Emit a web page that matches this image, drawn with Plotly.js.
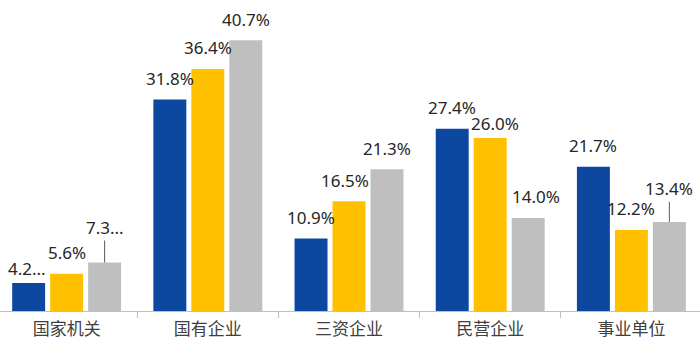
<!DOCTYPE html>
<html>
<head>
<meta charset="utf-8">
<script src="https://cdn.plot.ly/plotly-3.0.1.min.js"></script>
<style>html,body{margin:0;padding:0;background:#fff;}#chart{width:700px;height:350px;}</style>
</head>
<body>
<div id="chart"></div>
<script>
const categories = ["国家机关", "国有企业", "三资企业", "民营企业", "事业单位"];
const seriesA = [4.2, 31.8, 10.9, 27.4, 21.7];
const seriesB = [5.6, 36.4, 16.5, 26.0, 12.2];
const seriesC = [7.3, 40.7, 21.3, 14.0, 13.4];
const labelsA = ["4.2...", "31.8%", "10.9%", "27.4%", "21.7%"];
const labelsB = ["5.6%", "36.4%", "16.5%", "26.0%", "12.2%"];
const labelsC = ["7.3...", "40.7%", "21.3%", "14.0%", "13.4%"];

const colors = ["#0c48a0", "#ffc000", "#bfbfbf"];
const W = 700, H = 350;
const margin = {l: 0, r: 0, t: 0, b: 39};
const xRange = [-0.472, 4.486];
const yRange = [0, 46.77];
const bargap = 0.193, bargroupgap = 0.132;

const series = [seriesA, seriesB, seriesC];
const labels = [labelsA, labelsB, labelsC];

// label placement tweaks (pixels), keyed by "series-category"
const nudge = {
  "0-0": {dy: -6, dx: -2},
  "1-3": {dy: -6, dx: 5},
  "2-3": {dx: 8},
  "1-2": {dx: -4},
  "2-0": {leader: 35},
  "2-4": {leader: 33, dx: 0}
};

const traces = series.map((vals, i) => ({
  type: "bar",
  x: categories,
  y: vals,
  marker: {color: colors[i]},
  hoverinfo: "skip",
  showlegend: false
}));

const pxPerCat = (W - margin.l - margin.r) / (xRange[1] - xRange[0]);
const slot = (1 - bargap) * pxPerCat / series.length;

const annotations = [];
series.forEach((vals, i) => {
  vals.forEach((v, j) => {
    const n = nudge[i + "-" + j] || {};
    const xs = (i - 1) * slot + (n.dx || 0);
    const font = {family: "Noto Sans, Noto Sans CJK SC, sans-serif", size: 17, color: "#262626"};
    if (n.leader) {
      annotations.push({
        x: categories[j], y: v, xref: "x", yref: "y",
        text: labels[i][j], showarrow: true, arrowhead: 0, arrowwidth: 1,
        arrowcolor: "#595959", ax: 0, ay: -n.leader, standoff: 0,
        xshift: xs, font: font, borderpad: 1
      });
    } else {
      annotations.push({
        x: categories[j], y: v, xref: "x", yref: "y",
        text: labels[i][j], showarrow: false,
        xanchor: "center", yanchor: "middle",
        xshift: xs, yshift: 21 + (n.dy || 0), font: font
      });
    }
  });
});

const layout = {
  width: W, height: H,
  margin: margin,
  paper_bgcolor: "#ffffff", plot_bgcolor: "#ffffff",
  barmode: "group", bargap: bargap, bargroupgap: bargroupgap,
  xaxis: {
    type: "category", range: xRange,
    showline: true, linecolor: "#bfbfbf", linewidth: 1,
    ticks: "outside", tickson: "boundaries", ticklen: 6, tickcolor: "#bfbfbf", tickwidth: 1,
    ticklabelstandoff: 3,
    tickfont: {family: "Noto Sans CJK SC, sans-serif", size: 17, color: "#404040"},
    showgrid: false, zeroline: false, fixedrange: true
  },
  yaxis: {range: yRange, visible: false, showgrid: false, zeroline: false, fixedrange: true},
  annotations: annotations
};

Plotly.newPlot("chart", traces, layout, {displayModeBar: false, staticPlot: true});
</script>
</body>
</html>
